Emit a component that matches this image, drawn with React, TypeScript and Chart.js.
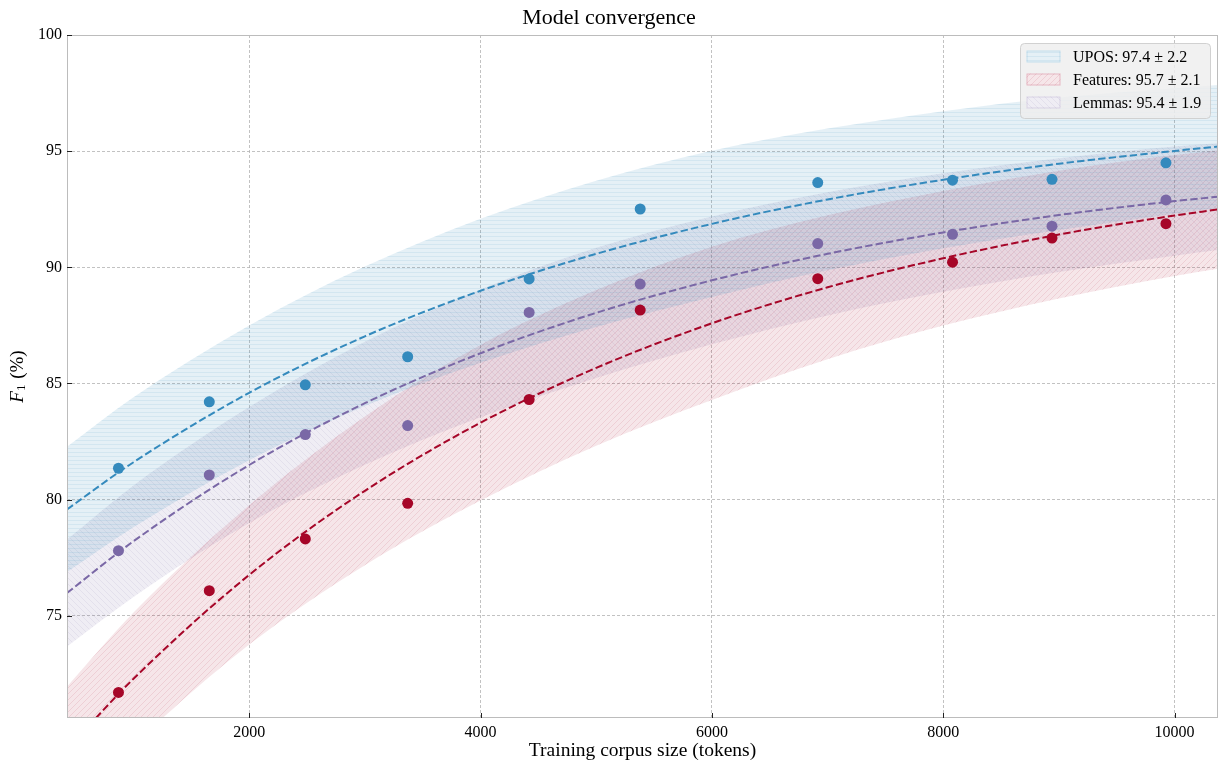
import React, { useEffect, useRef } from "react";
import { Chart, registerables } from "chart.js";

Chart.register(...registerables);

// ---- data ----
const tokens = [870, 1655, 2485, 3370, 4420, 5380, 6915, 8080, 8940, 9925];
const uposScores = [81.35, 84.21, 84.94, 86.15, 89.5, 92.51, 93.65, 93.75, 93.79, 94.5];
const featuresScores = [71.7, 76.08, 78.31, 79.84, 84.31, 88.16, 89.51, 90.22, 91.26, 91.88];
const lemmasScores = [77.8, 81.06, 82.8, 83.19, 88.06, 89.28, 91.02, 91.42, 91.77, 92.9];

const fitTokens = [425, 1000, 2000, 3000, 4000, 5000, 6000, 7000, 8000, 9000, 10000, 10375];
const uposFit = [79.58, 81.61, 84.6, 87.03, 88.99, 90.58, 91.87, 92.92, 93.77, 94.46, 95.01, 95.2];
const uposUpper = [82.28, 84.41, 87.5, 90.03, 92.09, 93.73, 95.02, 95.97, 96.72, 97.31, 97.71, 97.85];
const uposLower = [76.88, 78.81, 81.7, 84.03, 85.89, 87.43, 88.72, 89.87, 90.82, 91.61, 92.31, 92.55];
const featuresFit = [69.25, 72.29, 76.76, 80.38, 83.31, 85.67, 87.59, 89.14, 90.39, 91.41, 92.23, 92.49];
const featuresUpper = [71.95, 75.14, 79.76, 83.58, 86.66, 89.02, 90.89, 92.24, 93.29, 94.16, 94.83, 95.04];
const featuresLower = [66.55, 69.44, 73.76, 77.18, 79.96, 82.32, 84.29, 86.04, 87.49, 88.66, 89.63, 89.94];
const lemmasFit = [75.98, 78.21, 81.49, 84.15, 86.3, 88.04, 89.44, 90.58, 91.5, 92.25, 92.85, 93.04];
const lemmasUpper = [78.28, 80.61, 83.99, 86.8, 89.05, 90.84, 92.19, 93.23, 94.05, 94.7, 95.2, 95.34];
const lemmasLower = [73.68, 75.81, 78.99, 81.5, 83.55, 85.24, 86.69, 87.93, 88.95, 89.8, 90.5, 90.74];

const legendLabels = ["UPOS: 97.4 \u00b1 2.2", "Features: 95.7 \u00b1 2.1", "Lemmas: 95.4 \u00b1 1.9"];
const xTicks = [2000, 4000, 6000, 8000, 10000];
const yTicks = [75, 80, 85, 90, 95, 100];
const xRange = [425, 10375];
const yRange = [70.6, 100];

const FONT = '"Liberation Serif", "DejaVu Serif", "Times New Roman", serif';

type RGB = [number, number, number];
const BLUE: RGB = [52, 138, 189];
const RED: RGB = [166, 6, 40];
const PURPLE: RGB = [122, 104, 166];

const rgba = (c: RGB, a: number) => `rgba(${c[0]},${c[1]},${c[2]},${a})`;

function makeHatch(c: RGB, kind: string, base: number, line: number): CanvasPattern | string {
  const s = kind === "h" ? 4 : 6;
  const cv = document.createElement("canvas");
  cv.width = s;
  cv.height = s;
  const g = cv.getContext("2d");
  if (!g) return rgba(c, base);
  g.fillStyle = rgba(c, base);
  g.fillRect(0, 0, s, s);
  g.strokeStyle = rgba(c, line);
  g.lineWidth = 1;
  g.beginPath();
  if (kind === "h") {
    g.moveTo(0, 0.5);
    g.lineTo(s, 0.5);
  } else if (kind === "/") {
    g.moveTo(-1, s + 1);
    g.lineTo(s + 1, -1);
    g.moveTo(-1, 1);
    g.lineTo(1, -1);
    g.moveTo(s - 1, s + 1);
    g.lineTo(s + 1, s - 1);
  } else {
    g.moveTo(-1, -1);
    g.lineTo(s + 1, s + 1);
    g.moveTo(s - 1, -1);
    g.lineTo(s + 1, 1);
    g.moveTo(-1, s - 1);
    g.lineTo(1, s + 1);
  }
  g.stroke();
  return g.createPattern(cv, "repeat") || rgba(c, base);
}

const toXY = (xs: number[], ys: number[]) => xs.map((x, i) => ({ x, y: ys[i] }));

export default function App() {
  const ref = useRef<HTMLCanvasElement | null>(null);

  useEffect(() => {
    const canvas = ref.current;
    if (!canvas) return;

    const series = [
      { color: BLUE, hatch: "h", fit: uposFit, up: uposUpper, lo: uposLower, pts: uposScores, base: 0.13, line: 0.1 },
      { color: RED, hatch: "/", fit: featuresFit, up: featuresUpper, lo: featuresLower, pts: featuresScores, base: 0.1, line: 0.1 },
      { color: PURPLE, hatch: "\\", fit: lemmasFit, up: lemmasUpper, lo: lemmasLower, pts: lemmasScores, base: 0.12, line: 0.1 },
    ].map((s) => ({ ...s, pattern: makeHatch(s.color, s.hatch, s.base, s.line) }));

    const datasets: any[] = [];
    series.forEach((s) => {
      datasets.push({
        data: toXY(tokens, s.pts),
        showLine: false,
        pointRadius: 5.5,
        pointHoverRadius: 5.5,
        pointBorderWidth: 0,
        pointBackgroundColor: rgba(s.color, 1),
        borderColor: rgba(s.color, 1),
        order: 1,
        clip: 0,
      });
    });
    series.forEach((s) => {
      datasets.push({
        data: toXY(fitTokens, s.fit),
        borderColor: rgba(s.color, 1),
        borderWidth: 2,
        borderDash: [7.4, 3.2],
        pointRadius: 0,
        cubicInterpolationMode: "monotone",
        fill: false,
        order: 2,
        clip: 0,
      });
    });
    series.forEach((s) => {
      datasets.push({
        data: toXY(fitTokens, s.up),
        borderWidth: 0,
        borderColor: "rgba(0,0,0,0)",
        pointRadius: 0,
        cubicInterpolationMode: "monotone",
        backgroundColor: s.pattern,
        fill: "+1",
        order: 3,
        clip: 0,
      });
      datasets.push({
        data: toXY(fitTokens, s.lo),
        borderWidth: 0,
        borderColor: "rgba(0,0,0,0)",
        pointRadius: 0,
        cubicInterpolationMode: "monotone",
        fill: false,
        order: 3,
        clip: 0,
      });
    });

    const decor = {
      id: "decor",
      afterDraw(chart: any) {
        const { ctx, chartArea: a, scales } = chart;
        ctx.save();
        // frame
        ctx.strokeStyle = "#bcbcbc";
        ctx.lineWidth = 1;
        ctx.strokeRect(a.left + 0.5, a.top + 0.5, a.right - a.left - 1, a.bottom - a.top - 1);
        // inward ticks
        ctx.strokeStyle = "#222";
        ctx.lineWidth = 1;
        ctx.beginPath();
        xTicks.forEach((v) => {
          const px = Math.round(scales.x.getPixelForValue(v)) + 0.5;
          ctx.moveTo(px, a.bottom);
          ctx.lineTo(px, a.bottom - 5);
        });
        yTicks.forEach((v) => {
          const py = Math.round(scales.y.getPixelForValue(v)) + 0.5;
          ctx.moveTo(a.left, py);
          ctx.lineTo(a.left + 5, py);
        });
        ctx.stroke();

        // y axis title: F_1 (%)
        const cx = 18;
        const cy = (a.top + a.bottom) / 2;
        ctx.translate(cx, cy);
        ctx.rotate(-Math.PI / 2);
        ctx.fillStyle = "#000";
        ctx.textBaseline = "middle";
        ctx.textAlign = "left";
        const fBig = `italic 19px ${FONT}`;
        const fSub = `13px ${FONT}`;
        const fNorm = `19px ${FONT}`;
        ctx.font = fBig;
        const w1 = ctx.measureText("F").width;
        ctx.font = fSub;
        const w2 = ctx.measureText("1").width;
        ctx.font = fNorm;
        const w3 = ctx.measureText(" (%)").width;
        let x0 = -(w1 + w2 + 1 + w3) / 2;
        ctx.font = fBig;
        ctx.fillText("F", x0, 0);
        x0 += w1;
        ctx.font = fSub;
        ctx.fillText("1", x0, 4);
        x0 += w2 + 1;
        ctx.font = fNorm;
        ctx.fillText(" (%)", x0, 0);
        ctx.setTransform(1, 0, 0, 1, 0, 0);

        // legend
        const bw = 190;
        const bh = 75;
        const bx = a.right - 7.5 - bw;
        const by = a.top + 8.5;
        ctx.beginPath();
        const r = 4;
        ctx.moveTo(bx + r, by);
        ctx.lineTo(bx + bw - r, by);
        ctx.quadraticCurveTo(bx + bw, by, bx + bw, by + r);
        ctx.lineTo(bx + bw, by + bh - r);
        ctx.quadraticCurveTo(bx + bw, by + bh, bx + bw - r, by + bh);
        ctx.lineTo(bx + r, by + bh);
        ctx.quadraticCurveTo(bx, by + bh, bx, by + bh - r);
        ctx.lineTo(bx, by + r);
        ctx.quadraticCurveTo(bx, by, bx + r, by);
        ctx.closePath();
        ctx.fillStyle = "rgba(238,238,238,0.85)";
        ctx.fill();
        ctx.strokeStyle = "rgba(205,205,205,0.9)";
        ctx.lineWidth = 1;
        ctx.stroke();

        ctx.font = `16px ${FONT}`;
        ctx.textBaseline = "middle";
        ctx.textAlign = "left";
        series.forEach((s, i) => {
          const rowY = by + 13 + i * 23;
          const px = bx + 6;
          ctx.fillStyle = "#fff";
          ctx.fillRect(px, rowY - 6, 34, 12);
          ctx.fillStyle = s.pattern as any;
          ctx.fillRect(px, rowY - 6, 34, 12);
          ctx.strokeStyle = rgba(s.color, 0.2);
          ctx.strokeRect(px + 0.5, rowY - 5.5, 33, 11);
          ctx.fillStyle = "#000";
          ctx.fillText(legendLabels[i], bx + 52.5, rowY + 1);
        });
        ctx.restore();
      },
    };

    const gridDash = [3, 2];
    const chart = new Chart(canvas, {
      type: "line",
      data: { datasets },
      options: {
        animation: false,
        responsive: false,
        events: [],
        layout: { autoPadding: false, padding: { left: 0, right: 1, top: 0, bottom: 0 } },
        plugins: {
          legend: { display: false },
          tooltip: { enabled: false },
          title: {
            display: true,
            text: "Model convergence",
            color: "#000",
            font: { family: FONT, size: 22, weight: "normal" },
            padding: { top: 4.8, bottom: 3.8 },
          },
        },
        scales: {
          x: {
            type: "linear",
            min: xRange[0],
            max: xRange[1],
            afterBuildTicks: (sc: any) => {
              sc.ticks = xTicks.map((v) => ({ value: v }));
            },
            afterFit: (sc: any) => {
              sc.height = 47;
              sc.paddingLeft = 0;
              sc.paddingRight = 0;
            },
            ticks: {
              color: "#000",
              padding: 5,
              font: { family: FONT, size: 16 },
              callback: (v: any) => String(v),
            },
            grid: { color: "#b2b2b2", lineWidth: 0.8, drawTicks: false },
            border: { display: false, dash: gridDash },
            title: {
              display: true,
              text: "Training corpus size (tokens)",
              color: "#000",
              font: { family: FONT, size: 19.5 },
              padding: { top: 0, bottom: 2.5 },
            },
          },
          y: {
            type: "linear",
            min: yRange[0],
            max: yRange[1],
            afterBuildTicks: (sc: any) => {
              sc.ticks = yTicks.map((v) => ({ value: v }));
            },
            afterFit: (sc: any) => {
              sc.width = 67;
              sc.paddingTop = 0;
              sc.paddingBottom = 0;
            },
            ticks: {
              color: "#000",
              padding: 5,
              font: { family: FONT, size: 16 },
              callback: (v: any) => String(v),
            },
            grid: { color: "#b2b2b2", lineWidth: 0.8, drawTicks: false },
            border: { display: false, dash: gridDash },
          },
        },
      } as any,
      plugins: [decor],
    });

    return () => chart.destroy();
  }, []);

  return (
    <div style={{ position: "fixed", left: 0, top: 0, width: 1219, height: 765, background: "#fff" }}>
      <canvas ref={ref} width={1219} height={765} style={{ display: "block", width: 1219, height: 765 }} />
    </div>
  );
}
